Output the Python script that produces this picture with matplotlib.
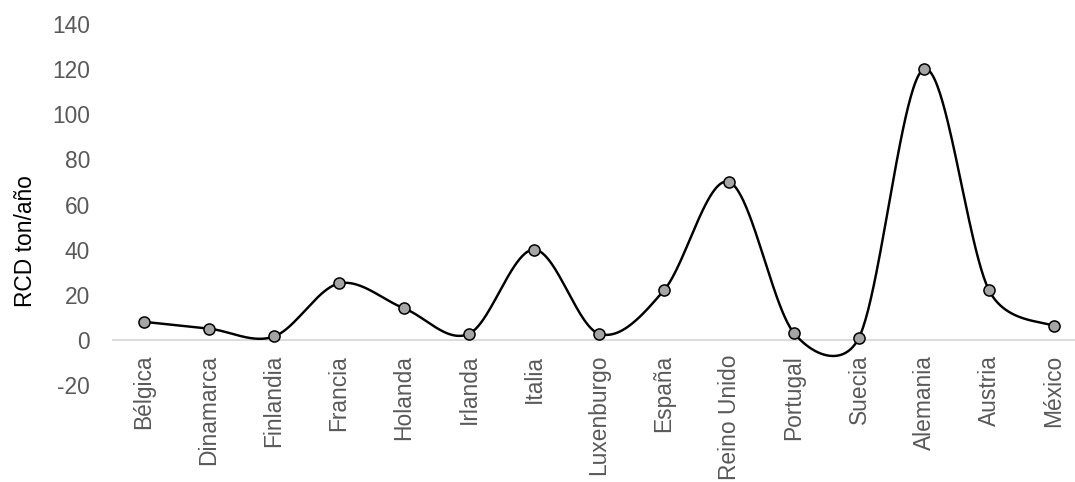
import numpy as np
import matplotlib
matplotlib.use("Agg")
import matplotlib.pyplot as plt

categories = ["Bélgica", "Dinamarca", "Finlandia", "Francia", "Holanda", "Irlanda",
              "Italia", "Luxenburgo", "España", "Reino Unido", "Portugal", "Suecia",
              "Alemania", "Austria", "México"]
values = [8, 5, 1.5, 25, 14, 2.7, 40, 2.7, 22, 70, 3, 1, 120, 22, 6]
y_ticks = [-20, 0, 20, 40, 60, 80, 100, 120, 140]
y_label = "RCD ton/año"

plt.rcParams['font.family'] = ['Liberation Sans', 'DejaVu Sans']
FS = 16.4


def excel_smooth(P, n=50):
    # Excel-like smoothed line: cubic Bezier with 1/6 tangents, clamped to half segment length
    P = np.asarray(P, float)
    P_ext = np.vstack([P[0], P, P[-1]])
    t = np.linspace(0, 1, n)[:, None]
    out = []
    for i in range(len(P) - 1):
        p0, p1, p2, p3 = P_ext[i], P_ext[i + 1], P_ext[i + 2], P_ext[i + 3]
        d12 = np.hypot(*(p2 - p1))
        d02 = np.hypot(*(p2 - p0))
        d13 = np.hypot(*(p3 - p1))
        f1 = 1 / 6
        f2 = 1 / 6
        if d02 > 0 and d02 / 6 > d12 / 2:
            f1 = (d12 / 2) / d02
        if d13 > 0 and d13 / 6 > d12 / 2:
            f2 = (d12 / 2) / d13
        c1 = p1 + (p2 - p0) * f1
        c2 = p2 - (p3 - p1) * f2
        seg = ((1 - t) ** 3) * p1 + 3 * ((1 - t) ** 2) * t * c1 + 3 * (1 - t) * t ** 2 * c2 + t ** 3 * p2
        out.append(seg if i == 0 else seg[1:])
    return np.vstack(out)


fig = plt.figure(figsize=(10.75, 4.82), dpi=100)
ax = fig.add_axes([111.5 / 1075, 1 - 385 / 482, 975 / 1075, (385 - 24) / 482])
ax.set_xlim(-0.5, len(categories) - 0.5)
ax.set_ylim(-20, 140)

xs = np.arange(len(categories))
pix = ax.transData.transform(np.column_stack([xs, values]))
curve_pix = excel_smooth(pix)
curve = ax.transData.inverted().transform(curve_pix)
ax.plot(curve[:, 0], curve[:, 1], color='black', lw=1.75, zorder=3, solid_capstyle='round')
ax.plot(xs, values, linestyle='none', marker='o', markersize=8,
        markerfacecolor='#a5a5a5', markeredgecolor='black', markeredgewidth=1.1, zorder=4)

ax.axhline(0, color='#d9d9d9', lw=1.3, zorder=1)
ax.set_yticks(y_ticks)
ax.set_yticklabels([str(v) for v in y_ticks])
for s in ax.spines.values():
    s.set_visible(False)
ax.tick_params(axis='y', length=0, pad=15.5, labelsize=FS, labelcolor='#595959')
ax.set_xticks([])

for x, c in zip(xs, categories):
    ax.annotate(c, xy=(x, 0), xycoords='data', xytext=(0, -15), textcoords='offset pixels',
                rotation=90, ha='center', va='top', fontsize=FS, color='#595959',
                annotation_clip=False)

ax.set_ylabel(y_label, fontsize=FS, color='black')
ax.yaxis.set_label_coords(-(111.5 - 37) / 975, (385 - 241) / 361)

fig.savefig("out.png", dpi=100)
